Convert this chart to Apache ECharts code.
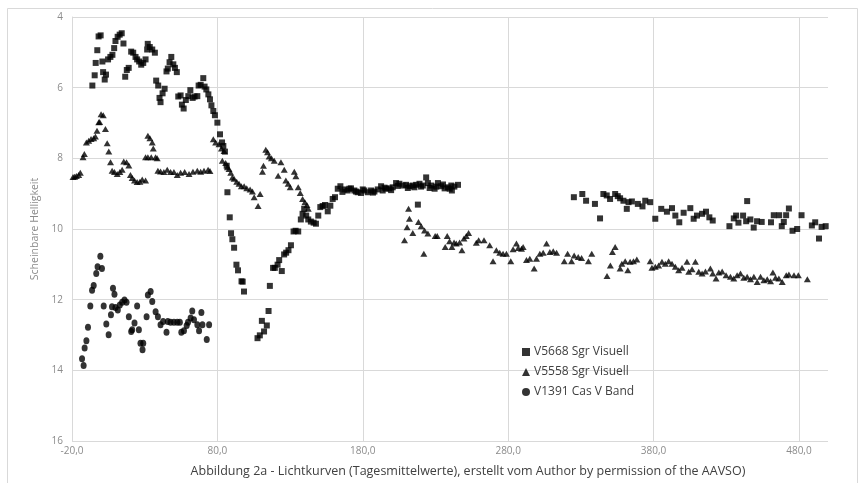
<!DOCTYPE html>
<html>
<head>
<meta charset="utf-8">
<script src="https://cdn.jsdelivr.net/npm/echarts@6/dist/echarts.min.js"></script>
<style>
html,body{margin:0;padding:0;background:#fff;}
#chart{width:860px;height:483px;}
</style>
</head>
<body>
<div id="chart"></div>
<script>
// ---- Data ----
var seriesNames = ['V5668 Sgr Visuell', 'V5558 Sgr Visuell', 'V1391 Cas V Band'];
var xTickLabels = ['-20,0', '80,0', '180,0', '280,0', '380,0', '480,0'];
var yTicks = [4, 6, 8, 10, 12, 14, 16];

var v5668 = [
[-6.0,5.94],[-4.4,5.65],[-3.7,5.30],[-2.6,4.94],[-1.7,4.55],[-0.3,4.52],[0.9,5.26],[1.4,5.56],[2.5,5.77],[3.4,5.63],
[4.8,5.20],[6.4,5.13],[7.8,5.07],[9.0,4.88],[9.9,4.68],[11.4,4.56],[12.8,4.50],[14.2,4.46],[15.4,4.75],[16.6,5.69],
[17.7,5.50],[19.0,5.44],[20.7,4.98],[22.1,5.01],[23.7,5.13],[24.8,5.20],[26.2,5.26],[27.6,5.35],[29.0,5.30],[30.6,5.20],
[31.7,4.92],[32.1,4.76],[33.5,4.85],[35.2,4.92],[37.0,5.01],[37.9,5.80],[39.3,5.94],[40.2,6.29],[40.9,6.41],[42.3,6.16],
[43.7,6.03],[45.0,5.54],[45.9,5.46],[47.1,5.28],[48.3,5.13],[49.7,5.34],[50.8,5.44],[52.1,5.56],[53.1,6.25],[54.7,6.22],
[55.6,6.48],[56.8,6.59],[58.3,6.35],[60.0,6.24],[61.4,6.07],[63.0,6.29],[64.3,6.25],[66.2,6.24],[67.1,5.94],[68.5,5.92],
[70.3,5.73],[71.2,5.97],[72.4,6.05],[73.8,6.19],[74.9,6.33],[75.9,6.50],[77.2,6.66],[78.3,6.78],[80.0,6.99],[81.8,7.32],
[83.2,7.55],[84.1,7.65],[85.2,7.81],[86.4,8.21],[86.9,8.96],[88.5,9.67],[89.4,10.12],[90.3,10.29],[91.5,10.53],[93.1,11.01],
[94.2,11.17],[96.6,11.48],[97.4,11.49],[98.3,11.77],
[107.6,13.09],[109.2,13.01],[110.6,12.60],[112.1,12.90],[114.0,12.73],[115.2,12.32],[116.1,11.61],[118.3,11.10],[119.5,11.10],
[121.4,11.01],[122.5,10.88],[124.3,11.19],[125.9,10.72],[127.3,10.67],[128.9,10.60],[130.6,10.46],[132.4,10.07],[133.8,10.05],
[135.6,10.07],[137.4,9.73],[138.6,9.57],[139.7,9.43],[141.1,9.62],[142.5,9.73],[144.3,9.79],[146.2,9.82],[147.8,9.85],
[149.4,9.62],[150.8,9.38],[152.4,9.35],[154.0,9.32],[155.9,9.50],[157.7,9.34],[159.3,9.15],[160.9,9.10],[162.8,8.86],[164.6,8.79],
[166.0,8.95],[167.3,8.88],[169.6,8.91],[170.8,8.86],[171.9,8.85],[174.2,8.91],[175.3,8.94],[176.5,8.96],[178.8,8.98],[180.0,8.88],
[181.1,8.91],[183.4,8.96],[185.7,8.91],[187.0,8.97],[188.0,8.94],[190.3,8.88],[192.6,8.79],[193.7,8.91],[195.0,8.83],[196.0,8.86],
[198.3,8.85],[199.5,8.90],[200.6,8.82],[202.9,8.70],[204.0,8.78],[205.2,8.72],[207.5,8.77],[209.8,8.75],[211.0,8.84],[212.1,8.79],
[214.4,8.77],[215.5,8.82],[216.7,8.75],[217.9,9.31],[219.0,8.72],[220.1,8.80],[221.3,8.77],[223.6,8.54],[224.8,8.70],[226.0,8.84],
[227.1,8.77],[229.4,8.86],[230.5,8.80],[231.7,8.70],[234.0,8.79],[235.2,8.74],[236.3,8.85],[238.6,8.82],[239.8,8.86],[240.9,8.77],
[241.3,8.91],[243.0,8.80],[245.5,8.75],
[325.2,9.10],[331.0,9.01],[333.6,9.20],[339.7,9.29],[343.2,9.70],[345.5,9.01],[347.8,9.05],[350.1,9.15],[353.6,9.01],[355.4,9.07],
[357.0,9.13],[359.3,9.20],[361.6,9.43],[362.8,9.24],[365.1,9.22],[369.2,9.29],[372.4,9.36],[374.3,9.20],[377.7,9.24],[381.2,9.71],
[385.3,9.43],[389.2,9.51],[392.7,9.41],[395.0,9.62],[397.7,9.81],[400.7,9.54],[405.3,9.41],[407.6,9.71],[409.9,9.62],[413.4,9.57],
[416.1,9.51],[418.4,9.67],[420.7,9.76],[432.2,9.92],[435.2,9.70],[436.8,9.62],[438.4,9.82],[441.6,9.62],[443.7,9.78],[444.4,9.21],
[446.6,9.73],[448.9,9.96],[451.2,9.78],[454.4,9.80],[460.8,9.81],[462.7,9.61],[466.4,9.61],[468.2,9.92],[469.6,9.80],[471.2,9.61],
[473.1,9.42],[475.6,10.05],[478.8,10.00],[481.8,9.61],[488.9,9.90],[491.2,9.81],[493.8,10.27],[495.6,9.94],[498.4,9.92]
];

var v5558 = [
[-19.3,8.53],[-18.2,8.52],[-17.0,8.50],[-15.4,8.47],[-14.3,8.41],[-12.4,7.97],[-11.5,7.88],[-10.1,7.55],[-8.5,7.50],[-6.9,7.45],
[-5.1,7.43],[-3.9,7.38],[-2.8,7.22],[-1.6,6.98],[-1.0,6.97],[0.0,6.75],[1.5,6.78],[3.0,7.17],[4.2,7.57],[5.3,7.81],
[6.5,8.11],[7.6,8.35],[9.2,8.39],[11.1,8.44],[12.9,8.39],[14.5,8.32],[15.6,8.09],[17.5,8.11],[19.1,8.20],[20.2,8.47],
[21.4,8.56],[23.0,8.63],[24.8,8.67],[26.7,8.66],[28.3,8.60],[30.6,8.63],[30.6,7.97],[32.2,7.97],[32.2,7.36],[33.6,7.43],
[34.5,7.97],[35.2,7.55],[35.9,7.72],[37.5,7.97],[38.6,8.00],[39.1,8.35],[40.9,8.37],[43.2,8.39],[45.5,8.32],[47.8,8.39],
[50.1,8.39],[52.4,8.47],[54.7,8.41],[57.5,8.39],[60.5,8.44],[63.2,8.38],[66.2,8.35],[68.5,8.38],[70.8,8.35],[73.6,8.32],
[74.9,8.36],[77.2,7.46],[78.8,7.55],[81.1,7.60],[82.8,7.72],[84.6,7.79],[83.4,8.07],[85.7,8.13],[86.9,8.25],[88.0,8.30],
[89.2,8.41],[90.3,8.54],[91.5,8.58],[93.3,8.66],[94.9,8.72],[96.5,8.79],[98.4,8.79],[100.2,8.85],[102.5,8.88],[104.1,8.94],
[105.3,9.10],[108.0,9.35],[109.4,9.01],[111.0,8.38],[111.7,8.21],[113.3,7.76],[114.5,7.83],[115.6,7.95],[117.2,8.00],[119.1,8.07],
[121.8,8.49],[123.7,8.11],[126.0,8.32],[127.1,8.63],[128.7,8.72],[130.1,8.82],[132.9,8.38],[134.0,8.51],[135.6,8.82],[137.0,8.98],
[138.6,9.15],[140.2,9.24],[141.6,9.32],[142.5,9.43],
[208.7,10.32],[210.5,9.95],[211.5,9.43],[212.1,9.71],[214.4,10.11],[218.3,9.80],[220.2,9.92],[222.0,10.70],[222.5,10.04],[224.8,10.13],
[229.8,10.20],[231.2,10.20],[236.7,10.51],[238.1,10.20],[239.7,10.35],[241.3,10.51],[242.8,10.38],[244.3,10.41],[246.6,10.38],[248.2,10.60],
[249.6,10.27],[251.2,10.20],[252.8,10.11],[258.1,10.39],[259.7,10.32],[263.4,10.32],[267.3,10.46],[269.6,10.91],[271.9,10.60],[274.2,10.67],
[276.5,10.70],[278.8,10.70],[281.8,10.91],[283.4,10.57],[285.7,10.41],[286.9,10.54],[289.2,10.56],[290.3,10.51],[292.6,10.88],[294.9,10.84],
[297.9,11.12],[299.5,10.84],[301.8,10.70],[304.1,10.67],[306.4,10.41],[308.7,10.65],[311.0,10.63],[313.3,10.67],[318.6,10.91],[320.9,10.70],
[323.6,10.91],[325.4,10.75],[328.2,10.79],[330.5,10.82],[335.2,10.91],[337.5,10.70],[348.0,11.33],[350.3,11.03],[351.7,10.65],[353.6,10.51],
[357.0,11.12],[358.2,10.98],[360.5,10.91],[362.3,11.17],[363.9,10.93],[366.2,10.91],[368.5,10.86],[377.7,10.91],[378.9,11.10],[381.2,11.07],
[383.5,11.03],[385.8,10.93],[388.1,10.98],[390.4,10.91],[392.7,10.98],[395.0,11.07],[397.3,11.17],[399.6,11.10],[403.0,10.93],[404.2,11.21],
[406.5,11.14],[408.8,10.93],[411.1,11.21],[413.4,11.26],[415.7,11.20],[419.1,11.12],[420.7,11.26],[423.0,11.40],[424.9,11.23],[427.2,11.20],
[429.9,11.31],[432.9,11.35],[435.2,11.40],[437.5,11.31],[439.8,11.26],[442.1,11.38],[444.4,11.35],[446.7,11.42],[449.0,11.35],[451.3,11.50],
[453.6,11.35],[455.9,11.45],[458.2,11.42],[460.5,11.48],[462.1,11.23],[463.9,11.38],[466.2,11.40],[468.5,11.50],[471.3,11.31],[473.1,11.29],
[476.6,11.31],[479.6,11.31],[485.8,11.42]
];

var v1391 = [
[-13.1,13.67],[-12.0,13.86],[-11.3,13.37],[-10.1,13.16],[-9.0,12.78],[-7.4,12.18],[-6.2,11.73],[-5.1,11.60],[-3.3,11.26],[-2.4,11.07],
[-0.5,10.77],[0.6,11.12],[1.8,12.18],[3.6,12.69],[5.2,12.99],[6.8,12.43],[7.5,12.20],[8.2,11.68],[9.2,11.85],[9.9,12.22],
[11.5,12.29],[12.9,12.15],[14.5,12.07],[16.1,12.01],[17.5,12.07],[19.1,12.48],[20.7,12.90],[21.4,12.85],[23.0,12.66],[24.8,12.18],
[26.0,12.85],[27.1,13.23],[28.5,13.42],[29.0,13.23],[31.3,12.48],[32.2,11.87],[34.1,11.77],[35.2,12.05],[37.5,12.34],[39.1,12.48],
[40.9,12.71],[42.7,12.62],[45.0,12.92],[45.9,12.62],[47.8,12.64],[50.1,12.64],[52.4,12.64],[54.2,12.64],[55.2,12.92],[57.0,12.88],
[58.9,12.73],[59.8,12.64],[61.6,12.52],[62.7,12.32],[63.9,12.57],[66.2,12.71],[67.4,12.88],[69.0,12.36],[69.7,12.71],[72.7,13.13],
[74.3,12.71]
];

var xMin = -20, xMax = 500, xStep = 100;
var yMin = 4, yMax = 16, yStep = 2;

var FONT = 'Open Sans';
var chart = echarts.init(document.getElementById('chart'), null, {renderer: 'canvas'});
var option = {
  animation: false,
  backgroundColor: '#ffffff',
  graphic: [{
    type: 'rect', left: 5, top: 6, shape: {width: 850, height: 490},
    style: {fill: 'none', stroke: '#d9d9d9', lineWidth: 1}, silent: true, z: -10
  }],
  grid: {left: 72, right: 32, top: 17, bottom: 40, containLabel: false},
  legend: {
    orient: 'vertical', left: 517, top: 341,
    itemWidth: 8, itemHeight: 8, itemGap: 8,
    textStyle: {fontFamily: FONT, fontSize: 12, color: '#404040', padding: [0, 0, 0, -1]},
    data: [
      {name: seriesNames[0], icon: 'rect'},
      {name: seriesNames[1], icon: 'triangle'},
      {name: seriesNames[2], icon: 'circle'}
    ]
  },
  xAxis: {
    type: 'value', min: xMin, max: xMax, interval: xStep,
    name: 'Abbildung 2a - Lichtkurven (Tagesmittelwerte), erstellt vom Author by permission of the AAVSO)',
    nameLocation: 'middle', nameGap: 24,
    nameTextStyle: {fontFamily: FONT, fontSize: 12.5, color: '#404040', padding: [0, 0, 0, 36]},
    axisLine: {show: false, onZero: false}, axisTick: {show: false},
    axisLabel: {
      fontFamily: FONT, fontSize: 10, color: '#8c8c8c', margin: 5, showMaxLabel: false,
      formatter: function (v) {
        var i = Math.round((v - xMin) / xStep);
        return (Math.abs(v - (xMin + i * xStep)) < 1e-6 && i < xTickLabels.length) ? xTickLabels[i] : '';
      }
    },
    splitLine: {show: true, showMaxLine: false, lineStyle: {color: '#d9d9d9', width: 1}}
  },
  yAxis: {
    type: 'value', inverse: true, min: yMin, max: yMax, interval: yStep,
    name: 'Scheinbare Helligkeit', nameLocation: 'middle', nameGap: 26,
    nameTextStyle: {fontFamily: FONT, fontSize: 10.5, color: '#8c8c8c'},
    axisLine: {show: true, onZero: false, lineStyle: {color: '#d9d9d9'}}, axisTick: {show: false},
    axisLabel: {fontFamily: FONT, fontSize: 10, color: '#8c8c8c', margin: 9},
    splitLine: {show: true, lineStyle: {color: '#d9d9d9', width: 1}}
  },
  series: [
    {name: seriesNames[0], type: 'scatter', symbol: 'rect', symbolSize: 6, data: v5668,
     itemStyle: {color: '#000000'}, z: 3},
    {name: seriesNames[1], type: 'scatter', symbol: 'triangle', symbolSize: [7, 6], data: v5558,
     itemStyle: {color: '#000000'}, z: 3},
    {name: seriesNames[2], type: 'scatter', symbol: 'circle', symbolSize: [6, 7], data: v1391,
     itemStyle: {color: '#000000'}, z: 3}
  ]
};
chart.setOption(option);
</script>
</body>
</html>
